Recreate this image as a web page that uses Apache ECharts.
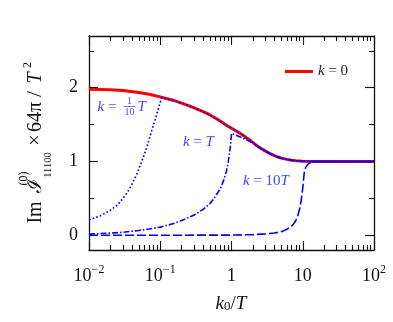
<!DOCTYPE html>
<html><head><meta charset="utf-8">
<script src="https://cdn.jsdelivr.net/npm/echarts@6/dist/echarts.min.js"></script>
<style>html,body{margin:0;padding:0;background:#fff}#c{width:393px;height:322px}</style>
</head><body><div id="c"></div>
<script>
// ---- data ----
const k0Red = [0.01,0.015,0.02,0.03,0.05,0.07,0.1,0.15,0.2,0.3,0.4,0.5,0.6,0.7,0.85,1,1.2,1.4,1.6,1.8,2,2.3,2.6,3,3.5,4,4.5,5,6,7,8,10,15,20,50,100];
const imRed = [1.98,1.975,1.97,1.96,1.935,1.91,1.875,1.83,1.79,1.725,1.675,1.63,1.585,1.545,1.49,1.45,1.405,1.365,1.325,1.29,1.255,1.21,1.175,1.14,1.105,1.08,1.06,1.045,1.028,1.017,1.01,1.004,1.0,1.0,1.0,1.0];

const k0Dot = [0.01,0.0125,0.015,0.02,0.025,0.03,0.035,0.04,0.045,0.05,0.055,0.06,0.065,0.07,0.075,0.08,0.085,0.09,0.095,0.1,0.105];
const imDot = [0.21,0.24,0.27,0.34,0.41,0.50,0.59,0.69,0.79,0.90,1.00,1.10,1.20,1.30,1.40,1.49,1.57,1.65,1.73,1.80,1.865];

const k0DashDot = [0.01,0.02,0.03,0.05,0.07,0.1,0.15,0.2,0.3,0.4,0.5,0.6,0.7,0.78,0.85,0.9,0.95,0.98,1.0,1.1,1.33,1.6,1.85];
const imDashDot = [0.015,0.03,0.04,0.065,0.085,0.11,0.155,0.2,0.275,0.35,0.43,0.53,0.635,0.75,0.87,0.99,1.15,1.27,1.38,1.365,1.33,1.295,1.265];

const k0Dash = [0.01,0.1,1,2,3,4,5,6,7,7.5,8,8.5,9,9.5,10,10.5,11,12,13,15,20,50,100];
const imDash = [0.0,0.0,0.002,0.008,0.018,0.03,0.048,0.08,0.125,0.16,0.2,0.26,0.35,0.47,0.64,0.85,0.92,0.97,0.985,0.997,1.0,1.0,1.0];

const xTickValues = [0.01,0.1,1,10,100];
const xTickBase = ['10','10','1','10','10'];
const xTickExp = ['\u22122','\u22121','','','2'];
const yTickValues = [0,1,2];
const yMinorValues = [0.5,1.5,2.5];

// ---- chart ----
const SERIF = "'Liberation Serif','DejaVu Serif',serif";
const INK = '#111';
const BLUE = '#0000ff';
const LBLUE = '#4646ff';
const xMinorValues = [];
for (let d = -2; d < 2; d++) for (let m = 2; m <= 9; m++) xMinorValues.push(+(m * Math.pow(10, d)).toPrecision(6));

function pairs(xs, ys) { return xs.map((x, i) => [x, ys[i]]); }
function redAfter(x0) { return pairs(k0Red, imRed).filter(p => p[0] > x0); }

const axisLineStyle = {color: INK, width: 1.3};
function xAx(pos, tickVals, len, showLine, label) {
  return {type: 'log', logBase: 10, min: 0.01, max: 100, position: pos,
    axisLine: {show: showLine, onZero: false, lineStyle: axisLineStyle},
    splitLine: {show: false}, minorTick: {show: false},
    axisTick: {show: true, inside: true, length: len, customValues: tickVals, lineStyle: {color: INK, width: 1.1}},
    axisLabel: label || {show: false}};
}
function yAx(pos, tickVals, len, showLine, label) {
  return {type: 'value', min: -0.2, max: 2.7, position: pos,
    axisLine: {show: showLine, onZero: false, lineStyle: axisLineStyle},
    splitLine: {show: false}, minorTick: {show: false},
    axisTick: {show: true, inside: true, length: len, customValues: tickVals, lineStyle: {color: INK, width: 1.1}},
    axisLabel: label || {show: false}};
}

const xLabel = {show: true, customValues: xTickValues, margin: 14,
  formatter: function (v) {
    const i = xTickValues.findIndex(t => Math.abs(Math.log10(t) - Math.log10(v)) < 1e-6);
    if (i < 0) return '';
    return xTickExp[i] ? '{b|' + xTickBase[i] + '}{s|' + xTickExp[i] + '}' : '{b|' + xTickBase[i] + '}';
  },
  rich: {b: {fontFamily: SERIF, fontSize: 18, color: INK, padding: [3, 0, 0, 0]},
         s: {fontFamily: SERIF, fontSize: 12, color: INK, verticalAlign: 'top'}}};
const yLabel = {show: true, customValues: yTickValues, margin: 11, fontFamily: SERIF, fontSize: 18, color: INK};

const rot = Math.PI / 2;
function t(x, y, text, font, extra) {
  return Object.assign({type: 'text', x: x, y: y, silent: true,
    style: {text: text, font: font, fill: INK, textAlign: 'center', textVerticalAlign: 'middle'}}, extra || {});
}
function rt(x, y, text, font) { return t(x, y, text, font, {rotation: rot}); }

const option = {
  animation: false,
  backgroundColor: '#fff',
  grid: {left: 89, top: 36, width: 285, height: 214},
  xAxis: [
    xAx('bottom', xTickValues, 9, true, xLabel),
    xAx('top', xTickValues, 9, true),
    xAx('bottom', xMinorValues, 5, false),
    xAx('top', xMinorValues, 5, false)
  ],
  yAxis: [
    yAx('left', yTickValues, 9, true, yLabel),
    yAx('right', yTickValues, 9, true),
    yAx('left', yMinorValues, 5, false),
    yAx('right', yMinorValues, 5, false)
  ],
  legend: {data: ['k0'], left: 280, top: 59, itemWidth: 28, itemHeight: 3, icon: 'rect',
    formatter: function () { return '{i|k} = 0'; },
    textStyle: {fontFamily: SERIF, fontSize: 15, color: '#222',
      rich: {i: {fontFamily: SERIF, fontSize: 15, fontStyle: 'italic', color: '#222'}}}},
  series: [
    {name: 'k0', type: 'line', data: pairs(k0Red, imRed), showSymbol: false, z: 2,
     lineStyle: {color: '#ff0000', width: 3}, itemStyle: {color: '#ff0000'}},
    {name: 'dot', type: 'line', data: pairs(k0Dot, imDot).concat(redAfter(0.105)), showSymbol: false, z: 3,
     lineStyle: {color: BLUE, width: 1.7, type: [1.6, 2.2]}, itemStyle: {color: BLUE}},
    {name: 'dashdot', type: 'line', data: pairs(k0DashDot, imDashDot).concat(redAfter(1.85)), showSymbol: false, z: 3,
     lineStyle: {color: BLUE, width: 1.6, type: [6, 2, 1.5, 2]}, itemStyle: {color: BLUE}},
    {name: 'dash', type: 'line', data: pairs(k0Dash, imDash), showSymbol: false, z: 3,
     lineStyle: {color: BLUE, width: 1.6, type: [9, 3]}, itemStyle: {color: BLUE}}
  ],
  graphic: [
    // y-axis title
    rt(36, 212.5, 'Im', '20px ' + SERIF),
    rt(36, 185.5, '\u2110', '20px ' + SERIF),
    rt(24, 178.5, '(0)', '12px ' + SERIF),
    rt(48.5, 165, '11100', '10.5px ' + SERIF),
    rt(36, 140, '\u00d7', '20px ' + SERIF),
    rt(36, 117, '64\u03c0', '20px ' + SERIF),
    rt(35, 94, '/', '22px ' + SERIF),
    rt(36, 78, 'T', 'italic 20px ' + SERIF),
    rt(27.5, 65, '2', '12px ' + SERIF),
    // x-axis title
    {type: 'text', x: 231, y: 304, silent: true,
     style: {text: '{i|k}{s|0}{n|/}{i|T}', textAlign: 'center', textVerticalAlign: 'middle',
       rich: {i: {fontFamily: SERIF, fontSize: 19, fontStyle: 'italic', fill: INK},
              n: {fontFamily: SERIF, fontSize: 19, fill: INK},
              s: {fontFamily: SERIF, fontSize: 13, fill: INK, verticalAlign: 'bottom'}}}},
    // curve labels
    {type: 'text', x: 97.5, y: 107, silent: true,
     style: {text: '{i|k} =', textAlign: 'left', textVerticalAlign: 'middle',
       rich: {i: {fontFamily: SERIF, fontSize: 15, fontStyle: 'italic', fill: LBLUE}}, fontFamily: SERIF, fontSize: 15, fill: LBLUE}},
    t(129.5, 101.5, '1', '10px ' + SERIF, {style: {text: '1', font: '10px ' + SERIF, fill: LBLUE, textAlign: 'center', textVerticalAlign: 'middle'}}),
    {type: 'line', silent: true, shape: {x1: 124, y1: 106.5, x2: 135, y2: 106.5}, style: {stroke: LBLUE, lineWidth: 0.8}},
    t(129.5, 112.5, '10', '10px ' + SERIF, {style: {text: '10', font: '10px ' + SERIF, fill: LBLUE, textAlign: 'center', textVerticalAlign: 'middle'}}),
    {type: 'text', x: 137.5, y: 107, silent: true,
     style: {text: 'T', font: 'italic 15px ' + SERIF, fill: LBLUE, textAlign: 'left', textVerticalAlign: 'middle'}},
    {type: 'text', x: 183, y: 142, silent: true,
     style: {text: '{i|k} = {i|T}', textAlign: 'left', textVerticalAlign: 'middle',
       rich: {i: {fontFamily: SERIF, fontSize: 15, fontStyle: 'italic', fill: LBLUE}}, fontFamily: SERIF, fontSize: 15, fill: LBLUE}},
    {type: 'text', x: 243, y: 181, silent: true,
     style: {text: '{i|k} = 10{i|T}', textAlign: 'left', textVerticalAlign: 'middle',
       rich: {i: {fontFamily: SERIF, fontSize: 15, fontStyle: 'italic', fill: LBLUE}}, fontFamily: SERIF, fontSize: 15, fill: LBLUE}}
  ]
};
const chart = echarts.init(document.getElementById('c'), null, {renderer: 'canvas'});
chart.setOption(option);
</script>
</body></html>
